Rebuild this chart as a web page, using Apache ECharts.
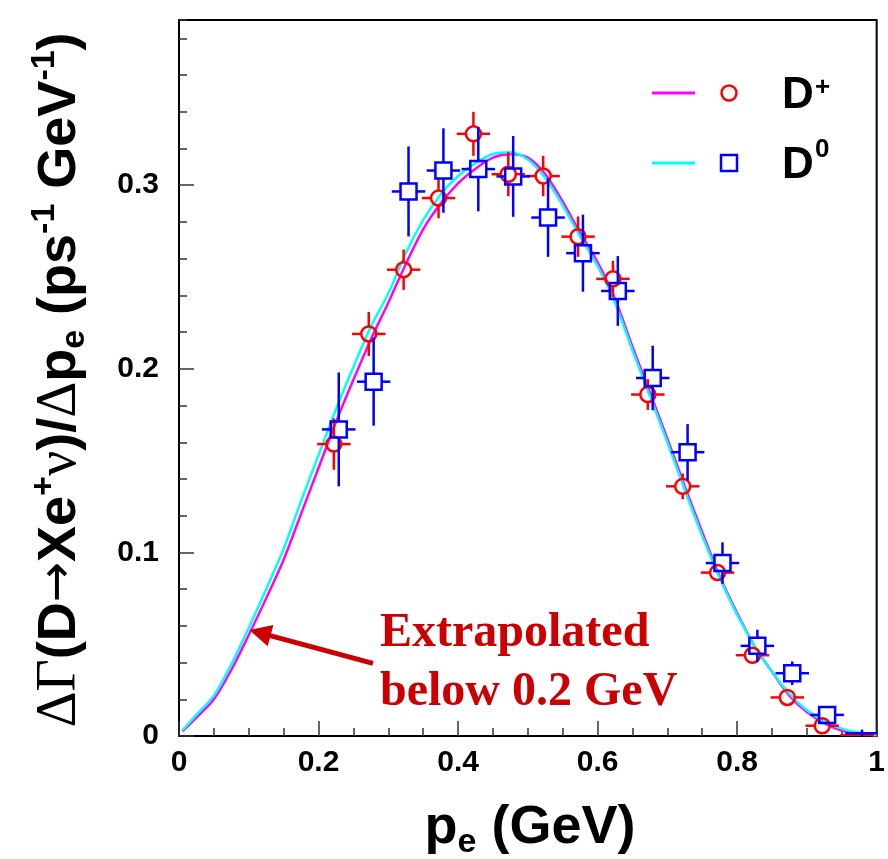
<!DOCTYPE html>
<html>
<head>
<meta charset="utf-8">
<script src="https://cdn.jsdelivr.net/npm/echarts@6/dist/echarts.min.js"></script>
<style>html,body{margin:0;padding:0;background:#fff;}#c{width:888px;height:859px;}</style>
</head>
<body>
<div id="c"></div>
<script>
// ---- data ----
const xTickLabels = ['0', '0.2', '0.4', '0.6', '0.8', '1'];
const yTickLabels = ['0', '0.1', '0.2', '0.3'];

const dPlusX   = [0.222,0.272,0.322,0.372,0.422,0.472,0.522,0.572,0.622,0.672,0.722,0.772,0.822,0.872,0.922,0.972];
const dPlusY   = [0.159,0.219,0.254,0.293,0.328,0.306,0.305,0.272,0.249,0.186,0.136,0.089,0.044,0.021,0.0056,0.0005];
const dPlusErr = [0.014,0.012,0.011,0.011,0.012,0.012,0.011,0.011,0.0098,0.0084,0.007,0.0045,0.004,0.003,0.002,0.001];

const dZeroX   = [0.229,0.279,0.329,0.379,0.429,0.479,0.529,0.579,0.629,0.679,0.729,0.779,0.829,0.879,0.929,0.979];
const dZeroY   = [0.167,0.193,0.2966,0.308,0.3088,0.3048,0.2824,0.263,0.2424,0.195,0.1546,0.0942,0.0491,0.0342,0.0115,0.0015];
const dZeroErr = [0.031,0.024,0.0245,0.023,0.023,0.022,0.0214,0.021,0.019,0.0176,0.0153,0.0113,0.0088,0.0064,0.004,0.002];

const binHalfWidth = 0.024;

const curveX   = [0.005,0.025,0.05,0.075,0.1,0.125,0.15,0.175,0.2,0.225,0.25,0.275,0.3,0.325,0.35,0.375,0.4,0.425,0.45,0.475,0.5,0.525,0.55,0.575,0.6,0.625,0.65,0.675,0.7,0.725,0.75,0.775,0.8,0.825,0.85,0.875,0.9,0.925,0.95,0.975,1.0];
const dPlusFit = [0.0025,0.010,0.020,0.036,0.055,0.075,0.096,0.121,0.146,0.171,0.194,0.216,0.236,0.257,0.276,0.290,0.301,0.309,0.315,0.317,0.315,0.306,0.291,0.274,0.258,0.238,0.212,0.187,0.162,0.136,0.111,0.087,0.067,0.049,0.035,0.022,0.013,0.007,0.003,0.0012,0.0003];
const dZeroFit = [0.003,0.0115,0.022,0.039,0.059,0.080,0.102,0.128,0.153,0.178,0.201,0.223,0.241,0.263,0.281,0.295,0.305,0.312,0.317,0.318,0.314,0.304,0.289,0.272,0.256,0.236,0.210,0.185,0.160,0.134,0.109,0.086,0.066,0.049,0.035,0.023,0.014,0.008,0.004,0.0018,0.0005];

const arrowTail = [0.278, 0.0396];
const arrowHead = [0.116, 0.0562];

// ---- chart ----
const chart = echarts.init(document.getElementById('c'), null, {renderer: 'canvas'});
const LBL = {fontFamily: 'Liberation Sans', fontWeight: 'bold', fontSize: 30, color: '#000'};

function errRender(shape, color) {
  return function (params, api) {
    const x = api.value(0), y = api.value(1), ey = api.value(2), ex = api.value(3), mk = api.value(4);
    const c = api.coord([x, y]);
    const xl = api.coord([x - ex, y])[0], xr = api.coord([x + ex, y])[0];
    const yt = api.coord([x, y + ey])[1], yb = api.coord([x, y - ey])[1];
    const g = mk ? (shape === 'circle' ? 7.5 : 8) : 0;
    const ls = {stroke: color, lineWidth: 2.5};
    const ch = [];
    if (c[0] - g > xl) ch.push({type: 'line', shape: {x1: xl, y1: c[1], x2: c[0] - g, y2: c[1]}, style: ls});
    if (xr > c[0] + g) ch.push({type: 'line', shape: {x1: c[0] + g, y1: c[1], x2: xr, y2: c[1]}, style: ls});
    if (c[1] - g > yt) ch.push({type: 'line', shape: {x1: c[0], y1: yt, x2: c[0], y2: c[1] - g}, style: ls});
    if (yb > c[1] + g) ch.push({type: 'line', shape: {x1: c[0], y1: c[1] + g, x2: c[0], y2: yb}, style: ls});
    if (mk) {
      if (shape === 'circle') ch.push({type: 'circle', shape: {cx: c[0], cy: c[1], r: 7.5}, style: {stroke: color, fill: 'none', lineWidth: 2.5}});
      else ch.push({type: 'rect', shape: {x: c[0] - 8, y: c[1] - 8, width: 16, height: 16}, style: {stroke: color, fill: 'none', lineWidth: 2.5}});
    }
    return {type: 'group', children: ch};
  };
}

const toPts = (xs, ys, es) => xs.map((x, i) => [x, ys[i], es[i], binHalfWidth, ys[i] > 0.003 ? 1 : 0]);

const option = {
  animation: false,
  backgroundColor: '#fff',
  grid: {left: 179, top: 20, width: 704, height: 716, show: true, borderColor: '#000', borderWidth: 2, backgroundColor: 'transparent'},
  xAxis: {
    type: 'value', min: 0, max: 1, interval: 0.2,
    axisLine: {show: true, onZero: false, lineStyle: {color: '#000', width: 2}},
    axisTick: {show: true, inside: true, length: 15, lineStyle: {color: '#333', width: 1.5}},
    minorTick: {show: true, splitNumber: 4, length: 8, lineStyle: {color: '#333', width: 1.5}},
    splitLine: {show: false},
    axisLabel: Object.assign({margin: 12, formatter: (v, i) => xTickLabels[i]}, LBL)
  },
  yAxis: [{
    type: 'value', min: 0, max: 0.39, interval: 0.1, position: 'left',
    axisLine: {show: true, onZero: false, lineStyle: {color: '#000', width: 2}},
    axisTick: {show: true, inside: true, length: 15, lineStyle: {color: '#333', width: 1.5}},
    splitLine: {show: false},
    axisLabel: Object.assign({margin: 20, showMaxLabel: false, formatter: (v, i) => yTickLabels[i] || ''}, LBL)
  }, {
    type: 'value', min: 0, max: 0.39, interval: 0.02, position: 'left', offset: 0,
    axisLine: {show: false},
    axisTick: {show: true, inside: true, length: 8, lineStyle: {color: '#333', width: 1.5}},
    splitLine: {show: false},
    axisLabel: {show: false}
  }],
  series: [
    {type: 'line', data: curveX.map((x, i) => [x, dPlusFit[i]]), smooth: 0.3, showSymbol: false,
     lineStyle: {color: '#ff00ff', width: 2.5}, z: 2, silent: true},
    {type: 'line', data: curveX.map((x, i) => [x, dZeroFit[i]]), smooth: 0.3, showSymbol: false,
     lineStyle: {color: '#00ffff', width: 2.5}, z: 2, silent: true,
     markLine: {silent: true, symbol: ['none', 'triangle'], symbolSize: 22, label: {show: false},
       lineStyle: {color: '#cc0000', width: 5, type: 'solid'}, itemStyle: {color: '#cc0000'},
       emphasis: {disabled: true}, animation: false,
       data: [[{coord: arrowTail}, {coord: arrowHead}]]}},
    {type: 'custom', renderItem: errRender('circle', '#ff0000'), data: toPts(dPlusX, dPlusY, dPlusErr),
     encode: {x: 0, y: 1}, clip: true, z: 4, silent: true},
    {type: 'custom', renderItem: errRender('square', '#0000ff'), data: toPts(dZeroX, dZeroY, dZeroErr),
     encode: {x: 0, y: 1}, clip: true, z: 4, silent: true}
  ],
  graphic: [
    // legend
    {type: 'line', shape: {x1: 652, y1: 93, x2: 695, y2: 93}, style: {stroke: '#ff00ff', lineWidth: 3}},
    {type: 'circle', shape: {cx: 729, cy: 93, r: 7.5}, style: {stroke: '#ff0000', fill: 'none', lineWidth: 2.5}},
    {type: 'text', x: 782, y: 96, style: {text: 'D', font: 'bold 44px "Liberation Sans"', fill: '#000', align: 'left', verticalAlign: 'middle'}},
    {type: 'text', x: 815, y: 88, style: {text: '+', font: 'bold 26px "Liberation Sans"', fill: '#000', align: 'left', verticalAlign: 'middle'}},
    {type: 'line', shape: {x1: 652, y1: 163, x2: 695, y2: 163}, style: {stroke: '#00ffff', lineWidth: 3}},
    {type: 'rect', shape: {x: 721, y: 155, width: 16, height: 16}, style: {stroke: '#0000ff', fill: 'none', lineWidth: 2.5}},
    {type: 'text', x: 782, y: 166, style: {text: 'D', font: 'bold 44px "Liberation Sans"', fill: '#000', align: 'left', verticalAlign: 'middle'}},
    {type: 'text', x: 815, y: 150, style: {text: '0', font: 'bold 26px "Liberation Sans"', fill: '#000', align: 'left', verticalAlign: 'middle'}},
    // annotation
    {type: 'text', x: 380, y: 634, style: {text: 'Extrapolated', font: 'bold 48px "Liberation Serif"', fill: '#cc0000', align: 'left', verticalAlign: 'middle'}},
    {type: 'text', x: 380, y: 693, style: {text: 'below 0.2 GeV', font: 'bold 48px "Liberation Serif"', fill: '#cc0000', align: 'left', verticalAlign: 'middle'}},
    // x title
    {type: 'text', x: 530, y: 828, style: {
      text: '{n|p}{sub|e}{n| (GeV)}', align: 'center', verticalAlign: 'middle',
      rich: {
        n: {fontFamily: 'Liberation Sans', fontWeight: 'bold', fontSize: 54, lineHeight: 64, fill: '#000'},
        sub: {fontFamily: 'Liberation Sans', fontWeight: 'bold', fontSize: 34, lineHeight: 34, verticalAlign: 'bottom', fill: '#000'}
      }}},
    // y title
    {type: 'text', x: 60, y: 380, rotation: Math.PI / 2, style: {
      text: '{g|ΔΓ}{n|(D}{a|→}{n|Xe}{sup|+}{g|ν}{n|)/}{g|Δ}{n|p}{sub|e}{n| (ps}{sup|-1}{n| GeV}{sup|-1}{n|)}',
      align: 'center', verticalAlign: 'middle',
      rich: {
        n: {fontFamily: 'Liberation Sans', fontWeight: 'bold', fontSize: 54, lineHeight: 64, fill: '#000'},
        g: {fontFamily: 'Liberation Serif', fontWeight: 'normal', fontSize: 56, lineHeight: 64, fill: '#000'},
        a: {fontFamily: 'DejaVu Sans', fontWeight: 'normal', fontSize: 48, lineHeight: 64, fill: '#000'},
        sup: {fontFamily: 'Liberation Sans', fontWeight: 'bold', fontSize: 34, lineHeight: 34, verticalAlign: 'top', fill: '#000'},
        sub: {fontFamily: 'Liberation Sans', fontWeight: 'bold', fontSize: 34, lineHeight: 34, verticalAlign: 'bottom', fill: '#000'}
      }}}
  ]
};
chart.setOption(option);
</script>
</body>
</html>
